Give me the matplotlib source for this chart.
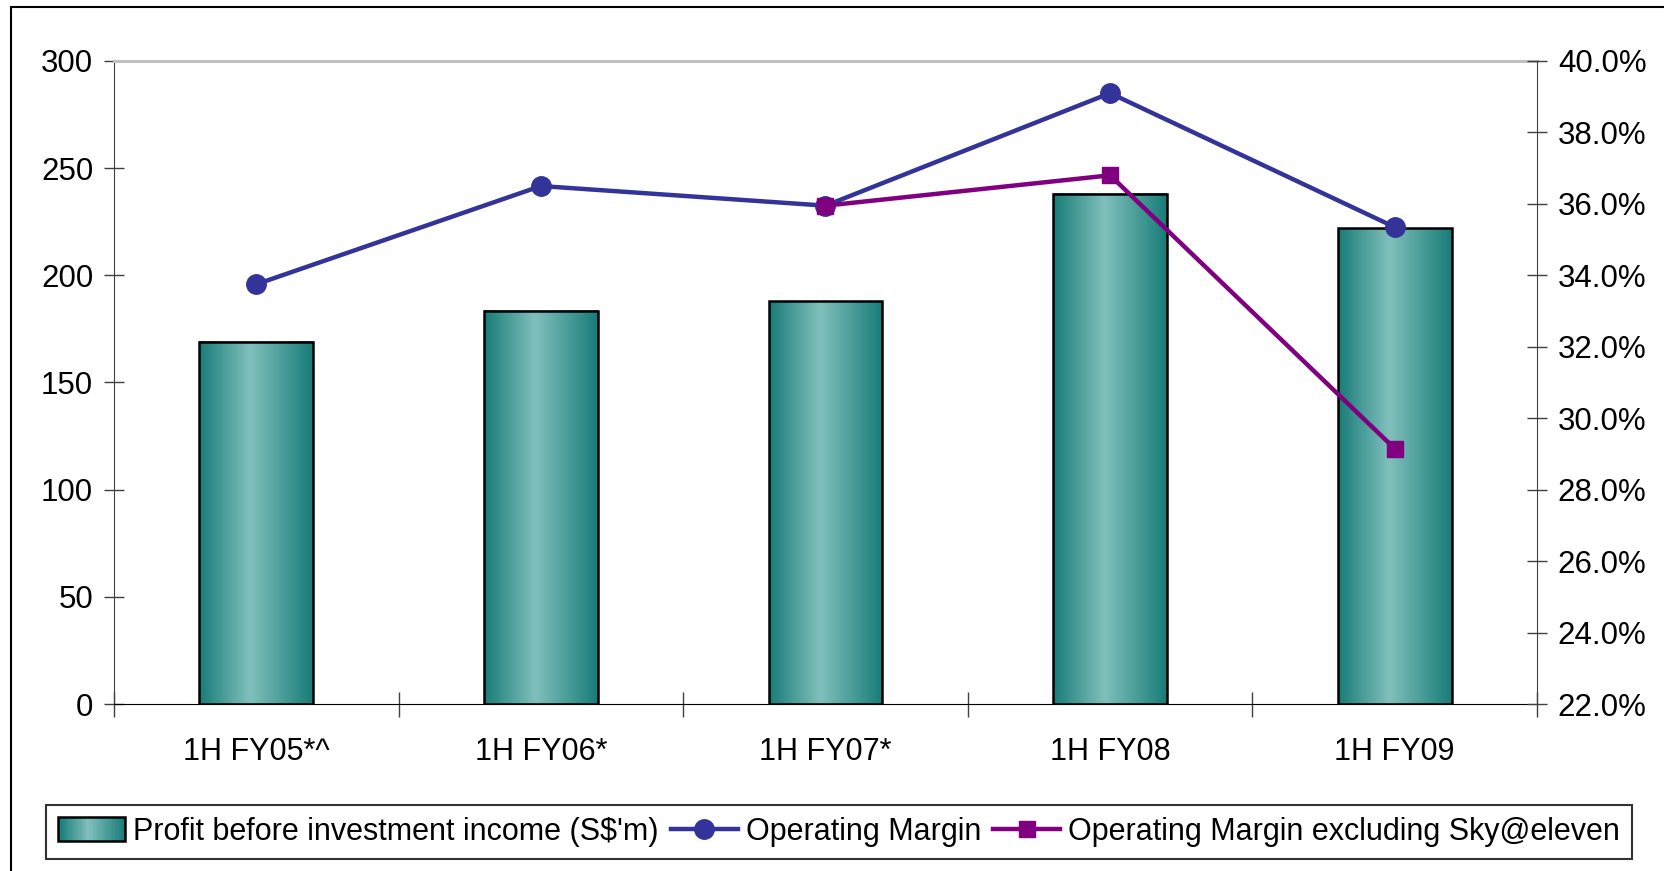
import numpy as np
import matplotlib
matplotlib.use('Agg')
import matplotlib.pyplot as plt
from matplotlib.patches import Rectangle
from matplotlib.legend_handler import HandlerBase
from matplotlib.lines import Line2D

plt.rcParams['font.family'] = ['Liberation Sans', 'DejaVu Sans']

categories = ['1H FY05*^', '1H FY06*', '1H FY07*', '1H FY08', '1H FY09']
profit = [169, 183.5, 188, 238, 222]
op_margin = [33.75, 36.5, 35.95, 39.1, 35.35]
op_margin_ex_sky = [np.nan, np.nan, 35.95, 36.8, 29.15]

bar_labels = ["Profit before investment income (S$'m)",
              'Operating Margin',
              'Operating Margin excluding Sky@eleven']

# horizontal teal gradient for the bars
dark = np.array([0x18, 0x7c, 0x78]) / 255
light = np.array([0x80, 0xc0, 0xbc]) / 255
t = np.linspace(0, 1, 200)
w = np.interp(t, [0, 0.45, 1], [0, 1, 0])
grad = dark[None, :] + (light - dark)[None, :] * w[:, None]
grad_img = grad[None, :, :]


class GradientHandler(HandlerBase):
    def create_artists(self, legend, orig_handle, xdescent, ydescent,
                       width, height, fontsize, trans):
        arts = []
        n = 30
        for i in range(n):
            c = grad[int(i / (n - 1) * (len(grad) - 1))]
            arts.append(Rectangle((-xdescent + i * width / n, -ydescent - 1),
                                  width / n + 0.3, height + 2, facecolor=c,
                                  edgecolor='none', transform=trans))
        arts.append(Rectangle((-xdescent, -ydescent - 1), width, height + 2,
                              facecolor='none', edgecolor='black', lw=1.8,
                              transform=trans))
        return arts


fig = plt.figure(figsize=(16.65, 8.71), dpi=100)
fig.patches.append(Rectangle((11 / 1665, -0.1), 1.2, 1 - 7 / 871 + 0.1,
                             transform=fig.transFigure, fill=False,
                             edgecolor='black', lw=1.5))

ax = fig.add_axes([114 / 1665, 1 - 704 / 871, 1423 / 1665, 643 / 871])
x = np.arange(len(categories))
bw = 0.4
for xi, h in zip(x, profit):
    ax.imshow(grad_img, extent=(xi - bw / 2, xi + bw / 2, 0, h),
              aspect='auto', zorder=1, interpolation='bilinear')
ax.bar(x, profit, width=bw, fill=False, edgecolor='black', lw=1.8, zorder=2)

ax.set_xlim(-0.5, 4.5)
ax.set_ylim(0, 300)
ax.set_yticks(range(0, 301, 50))
ax.set_xticks(x)
ax.set_xticklabels(categories)
ax.set_xticks(np.arange(-0.5, 4.6, 1), minor=True)
ax.tick_params(axis='x', which='major', length=0, pad=24, labelsize=22)
ax.tick_params(axis='x', which='minor', direction='inout', length=18,
               width=1, color='#404040')
ax.tick_params(axis='y', direction='inout', length=14, width=1,
               color='#404040', labelsize=22.5, pad=8)
ax.spines['top'].set_color('#c0c0c0')
ax.spines['top'].set_linewidth(2.2)
ax.spines['left'].set_color('#404040')
ax.spines['right'].set_visible(False)
ax.spines['bottom'].set_color('black')

ax2 = ax.twinx()
ax2.plot(x, op_margin, color='#333399', lw=3.2, marker='o', ms=14,
         zorder=3)
ax2.plot(x, op_margin_ex_sky, color='#800080', lw=3.2, marker='s', ms=11,
         zorder=4)
ax2.set_ylim(22, 40)
ax2.set_yticks(np.arange(22, 40.1, 2))
ax2.set_yticklabels([f'{v:.1f}%' for v in np.arange(22, 40.1, 2)])
ax2.tick_params(axis='y', direction='inout', length=14, width=1,
                color='#404040', labelsize=22.5, pad=8)
ax2.spines['right'].set_color('#404040')
ax2.spines['top'].set_visible(False)
ax2.spines['left'].set_visible(False)
ax2.spines['bottom'].set_visible(False)

handles = [Rectangle((0, 0), 1, 1),
           Line2D([], [], color='#333399', lw=3.2, marker='o', ms=14),
           Line2D([], [], color='#800080', lw=3.2, marker='s', ms=11)]
leg = fig.legend(handles, bar_labels, loc='center',
                 bbox_to_anchor=(839 / 1665, 1 - 832 / 871), ncol=3,
                 fontsize=22, frameon=True, fancybox=False, edgecolor='black',
                 handlelength=2.2, handletextpad=0.25, columnspacing=0.4,
                 borderpad=0.4, handler_map={Rectangle: GradientHandler()})
leg.get_frame().set_linewidth(1.5)

fig.savefig('out.png', dpi=100)
